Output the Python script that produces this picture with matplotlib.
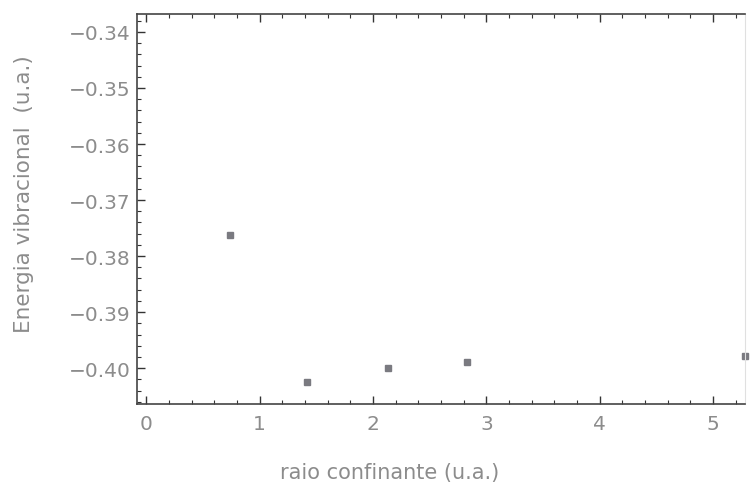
import numpy as np
import matplotlib.pyplot as plt
from matplotlib.ticker import MultipleLocator, FuncFormatter

# data
raio = [0.74, 1.42, 2.13, 2.83, 5.28]
energia = [-0.3762, -0.4025, -0.4000, -0.3989, -0.3979]

x_ticks = [0, 1, 2, 3, 4, 5]
y_ticks = [-0.34, -0.35, -0.36, -0.37, -0.38, -0.39, -0.40]

plt.rcParams['font.family'] = ['DejaVu Sans']

fig = plt.figure(figsize=(7.5, 4.85), dpi=100)
ax = fig.add_axes([0.183, 0.165, 0.81, 0.804])

ax.plot(raio, energia, 's', ms=4, color='#7a7a80', clip_on=False)

ax.set_xlim(-0.08, 5.28)
ax.set_ylim(-0.4064, -0.3368)
ax.set_xticks(x_ticks)
ax.set_yticks(y_ticks)
ax.xaxis.set_minor_locator(MultipleLocator(0.2))
ax.yaxis.set_minor_locator(MultipleLocator(0.002))
ax.yaxis.set_major_formatter(FuncFormatter(lambda v, p: '\u2212%.2f' % abs(v)))

ax.tick_params(which='both', direction='in', top=True, right=False,
               colors='#333333', labelcolor='#8c8c8c', labelsize=14.5)
ax.tick_params(which='major', length=6, width=1)
ax.tick_params(which='minor', length=3, width=0.8)
ax.tick_params(axis='x', pad=7)
ax.tick_params(axis='y', pad=5)

for side in ['left', 'bottom', 'top']:
    ax.spines[side].set_color('#444444')
    ax.spines[side].set_linewidth(1.2)
ax.spines['right'].set_color('#e0e0e0')

ax.set_xlabel('raio confinante (u.a.)', fontsize=15, color='#8c8c8c')
ax.set_ylabel('Energia vibracional  (u.a.)', fontsize=15.5, color='#8c8c8c')
# label centres as in the scan (the original frame is cut off on the right)
ax.xaxis.set_label_coords(0.415, -0.15)
ax.yaxis.set_label_coords(-0.17, 0.54)

fig.savefig('out.png', dpi=100)
